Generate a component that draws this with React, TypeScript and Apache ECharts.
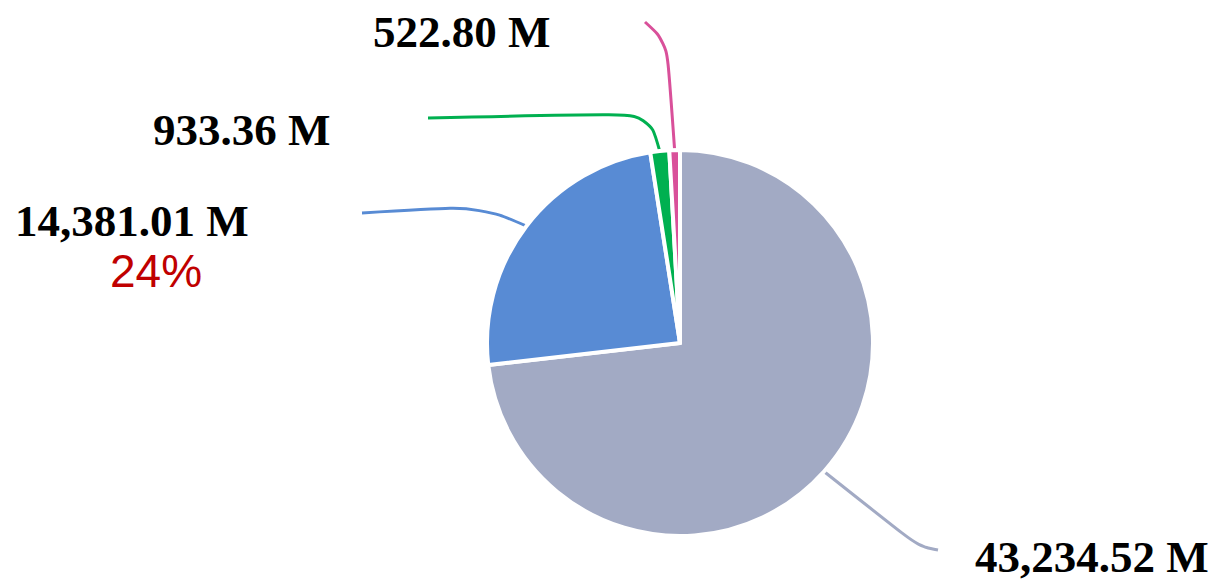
import React, { useEffect, useRef } from "react";
import * as echarts from "echarts";

const categories = ["Segment A", "Segment B", "Segment C", "Segment D"];
const values = [43234.52, 14381.01, 933.36, 522.8];
const colors = ["#A2AAC4", "#588BD4", "#00B050", "#D9509A"];
const percentSliceIndex = 1;

// label layout (page pixels): label anchor, line elbow and end
const labelPos = [
  { x: 975, y: 557, elbow: [918, 546], end: [938, 550] },
  { x: 15, y: 221, elbow: [480, 206], end: [362, 213] },
  { x: 153, y: 130, elbow: [649, 113], end: [428, 118] },
  { x: 373, y: 32, elbow: [667, 42], end: [645, 22] },
];
const percentPos = { x: 110, y: 248 };

const fmt = (v: number) =>
  v.toLocaleString("en-US", { minimumFractionDigits: 2, maximumFractionDigits: 2 });

export default function App() {
  const ref = useRef<HTMLDivElement>(null);
  useEffect(() => {
    if (!ref.current) return;
    const chart = echarts.init(ref.current, undefined, { renderer: "svg" });
    const total = values.reduce((a, b) => a + b, 0);
    const pct = Math.round((values[percentSliceIndex] / total) * 100);
    chart.setOption({
      animation: false,
      graphic: [
        {
          type: "text",
          left: percentPos.x,
          top: percentPos.y,
          style: {
            text: `${pct}%`,
            fontFamily: "Liberation Sans",
            fontSize: 46,
            lineHeight: 40,
            fill: "#C00000",
          },
        },
      ],
      series: [
        {
          type: "pie",
          center: [680, 343],
          radius: 193,
          startAngle: 90,
          clockwise: true,
          avoidLabelOverlap: false,
          emphasis: { disabled: true },
          itemStyle: { borderColor: "#ffffff", borderWidth: 4 },
          data: categories.map((name, i) => ({
            name,
            value: values[i],
            itemStyle: { color: colors[i] },
          })),
          label: {
            show: true,
            position: "outside",
            formatter: (p: any) => `${fmt(values[p.dataIndex])} M`,
            fontFamily: "Liberation Serif",
            fontWeight: "bold",
            fontSize: 45,
            lineHeight: 40,
            color: "#000000",
          },
          labelLine: {
            show: true,
            smooth: 0.4,
            lineStyle: { width: 3 },
          },
          labelLayout: (params: any) => {
            const L = labelPos[params.dataIndex];
            const pts = params.labelLinePoints;
            const anchor = pts && pts[0] ? pts[0] : L.elbow;
            return {
              x: L.x,
              y: L.y,
              align: "left",
              verticalAlign: "middle",
              labelLinePoints: [anchor, L.elbow, L.end],
            };
          },
        },
      ],
    });
    return () => chart.dispose();
  }, []);
  return (
    <div
      ref={ref}
      style={{ position: "absolute", left: 0, top: 0, width: 1216, height: 582 }}
    />
  );
}
